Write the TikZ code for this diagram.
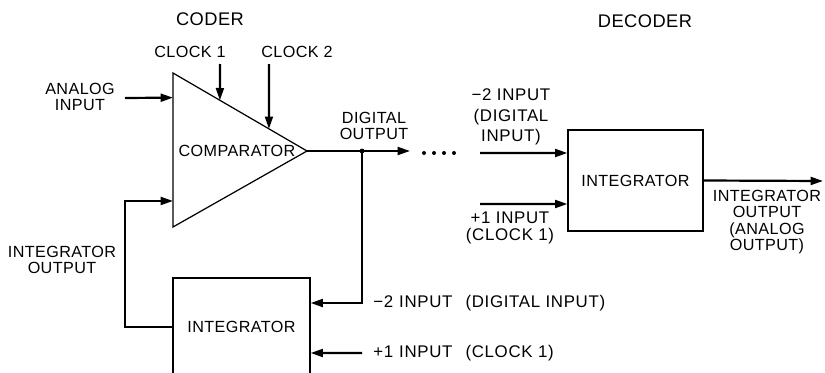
\documentclass[tikz,border=0pt]{standalone}
\usepackage{fontspec}
\setmainfont{Liberation Sans}[LetterSpace=2.5]
\usetikzlibrary{arrows.meta, calc}

\tikzset{
  lbl/.style={font=\fontsize{9.2}{9.3}\selectfont, align=center, inner sep=0pt},
  wlbl/.style={font=\fontsize{9.6}{9.8}\selectfont\addfontfeature{LetterSpace=4}, align=center, inner sep=0pt},
  ttl/.style={font=\fontsize{10.4}{11}\selectfont, inner sep=0pt},
  sig/.style={line width=1.25pt, -{Triangle[length=7pt,width=4.5pt]}},
  wire/.style={line width=1.25pt},
  blk/.style={draw, line width=0.7pt},
}

\begin{document}
\begin{tikzpicture}[x=0.02cm, y=-0.02cm]
  \useasboundingbox (0,0) rectangle (825,372);
  \clip (0,0) rectangle (825,372);
  % coder
  \node[ttl] (coder) at (210,19) {CODER};
  \coordinate (ctop) at (173,73);
  \coordinate (cbot) at (173,227);
  \coordinate (capex) at (307,151);
  \draw[line width=0.7pt] (ctop) -- (capex) -- (cbot) -- cycle;
  \node[lbl] (comp) at (237,151) {COMPARATOR};
  % clocks on the comparator
  \node[lbl] (clk1) at (190,52) {CLOCK 1};
  \node[lbl] (clk2) at (297,52) {CLOCK 2};
  \coordinate (ck1s) at (220,64);
  \coordinate (ck2s) at (269,64);
  \draw[sig] (ck1s) -- ($(ctop)!0.35!(capex)$);
  \draw[sig] (ck2s) -- ($(ctop)!0.716!(capex)$);
  % analog input
  \node[lbl] (ain) at (80,97) {ANALOG\\INPUT};
  \coordinate (ains) at (125,98);
  \coordinate (cin1) at ($(ctop)!0.16!(cbot)$);
  \draw[sig] (ains) -- (cin1);
  % digital output
  \coordinate (jn) at (362,151);
  \coordinate (dout) at (410,151);
  \node[lbl] (doutl) at (374,126) {DIGITAL\\OUTPUT};
  \draw[wire] (capex) -- (jn);
  \draw[sig] (jn) -- (dout);
  \fill (jn) circle (2.4);
  \foreach \i in {0,...,3}
    \fill (424+\i*10,153) circle (2);
  % integrator in the loop
  \node[blk, minimum width=2.74cm, minimum height=1.96cm, lbl, draw] (lint) at (241.5,327) {INTEGRATOR};
  \draw[sig] (jn) |- ([yshift=0.48cm]lint.east);
  \node[wlbl, anchor=west] (m2l) at (373,303) {−2\hspace{0.12cm}INPUT\hspace{0.26cm}(DIGITAL INPUT)};
  \coordinate (p1s) at (362,353);
  \draw[sig] (p1s) -- ([yshift=-0.52cm]lint.east);
  \node[wlbl, anchor=west] (p1l) at (373,353) {+1\hspace{0.12cm}INPUT\hspace{0.26cm}(CLOCK 1)};
  % feedback to comparator
  \coordinate (fb) at (125,327);
  \coordinate (cin2) at ($(ctop)!0.831!(cbot)$);
  \draw[sig] (lint.west) -- (fb) |- (cin2);
  \node[lbl] (fbl) at (62,260) {INTEGRATOR\\OUTPUT};
  % decoder
  \node[ttl] (decoder) at (645,21) {DECODER};
  \node[blk, minimum width=2.7cm, minimum height=2.02cm, lbl, draw] (dint) at (635.5,180.5) {INTEGRATOR};
  \coordinate (dm2s) at (480,153);
  \coordinate (dp1s) at (480,204);
  \draw[sig] (dm2s) -- ([yshift=0.55cm]dint.west);
  \draw[sig] (dp1s) -- ([yshift=-0.47cm]dint.west);
  \node[wlbl] (dm2l) at (511,117) {−2 INPUT\\[0.06cm](DIGITAL\\[0.06cm]INPUT)};
  \node[wlbl] (dp1l) at (510,228) {+1 INPUT\\(CLOCK 1)};
  \coordinate (aout) at (823,181);
  \draw[sig] (dint.east) -- (aout);
  \node[lbl] (aoutl) at (767,222) {INTEGRATOR\\OUTPUT\\(ANALOG\\OUTPUT)};
\end{tikzpicture}
\end{document}
